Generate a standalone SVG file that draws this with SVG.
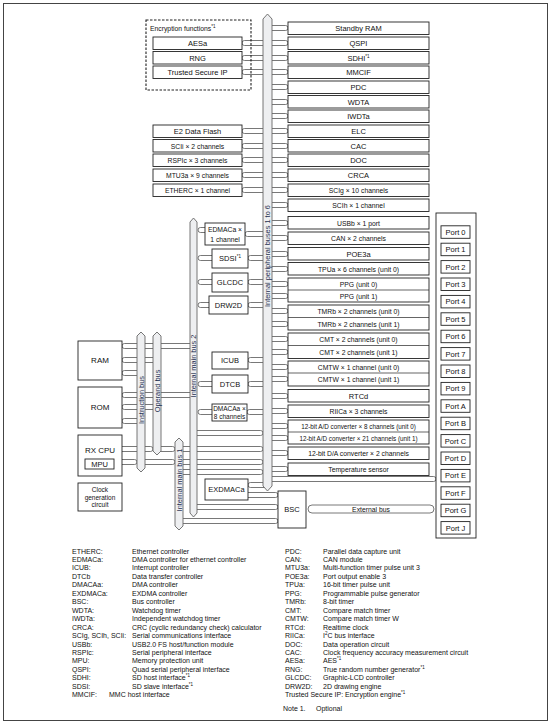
<svg xmlns="http://www.w3.org/2000/svg" width="554" height="724" viewBox="0 0 554 724">
<style>
.b{fill:#fff;stroke:#222;stroke-width:0.9}
.t{font-family:"Liberation Sans",Arial,sans-serif;font-size:7.5px;fill:#111;text-anchor:middle}
.s{font-size:6.8px}
.bus{fill:#eeeff1;stroke:#666;stroke-width:0.9}
.c{fill:#fff;stroke:#555;stroke-width:0.8}
.vt{font-family:"Liberation Sans",Arial,sans-serif;font-size:7.4px;fill:#1f2f4f;text-anchor:middle}
.lg{font-family:"Liberation Sans",Arial,sans-serif;font-size:7px;fill:#111}
.sup{font-size:4.5px}
</style>
<rect x="3.5" y="3.5" width="544" height="717" fill="#fff" stroke="#444" stroke-width="1"/>

<g id="connectors">
<path class="c" d="M270 25.5H285.5A2.5 2.5 0 0 1 285.5 30.5H270"/>
<path class="c" d="M270 40.5H285.5A2.5 2.5 0 0 1 285.5 45.5H270"/>
<path class="c" d="M270 55.5H285.5A2.5 2.5 0 0 1 285.5 60.5H270"/>
<path class="c" d="M270 69.5H285.5A2.5 2.5 0 0 1 285.5 74.5H270"/>
<path class="c" d="M270 84.5H285.5A2.5 2.5 0 0 1 285.5 89.5H270"/>
<path class="c" d="M270 99.5H285.5A2.5 2.5 0 0 1 285.5 104.5H270"/>
<path class="c" d="M270 113.5H285.5A2.5 2.5 0 0 1 285.5 118.5H270"/>
<path class="c" d="M270 128.5H285.5A2.5 2.5 0 0 1 285.5 133.5H270"/>
<path class="c" d="M270 143.5H285.5A2.5 2.5 0 0 1 285.5 148.5H270"/>
<path class="c" d="M270 157.5H285.5A2.5 2.5 0 0 1 285.5 162.5H270"/>
<path class="c" d="M270 172.5H285.5A2.5 2.5 0 0 1 285.5 177.5H270"/>
<path class="c" d="M270 187.5H285.5A2.5 2.5 0 0 1 285.5 192.5H270"/>
<path class="c" d="M270 202.5H285.5A2.5 2.5 0 0 1 285.5 207.5H270"/>
<path class="c" d="M270 220.5H285.5A2.5 2.5 0 0 1 285.5 225.5H270"/>
<path class="c" d="M270 235.5H285.5A2.5 2.5 0 0 1 285.5 240.5H270"/>
<path class="c" d="M270 251.5H285.5A2.5 2.5 0 0 1 285.5 256.5H270"/>
<path class="c" d="M270 266.5H285.5A2.5 2.5 0 0 1 285.5 271.5H270"/>
<path class="c" d="M270 281.5H285.5A2.5 2.5 0 0 1 285.5 286.5H270"/>
<path class="c" d="M270 293.5H285.5A2.5 2.5 0 0 1 285.5 298.5H270"/>
<path class="c" d="M270 308.5H285.5A2.5 2.5 0 0 1 285.5 313.5H270"/>
<path class="c" d="M270 321.5H285.5A2.5 2.5 0 0 1 285.5 326.5H270"/>
<path class="c" d="M270 336.5H285.5A2.5 2.5 0 0 1 285.5 341.5H270"/>
<path class="c" d="M270 349.5H285.5A2.5 2.5 0 0 1 285.5 354.5H270"/>
<path class="c" d="M270 364.5H285.5A2.5 2.5 0 0 1 285.5 369.5H270"/>
<path class="c" d="M270 376.5H285.5A2.5 2.5 0 0 1 285.5 381.5H270"/>
<path class="c" d="M270 393.5H285.5A2.5 2.5 0 0 1 285.5 398.5H270"/>
<path class="c" d="M270 408.5H285.5A2.5 2.5 0 0 1 285.5 413.5H270"/>
<path class="c" d="M270 423.5H285.5A2.5 2.5 0 0 1 285.5 428.5H270"/>
<path class="c" d="M270 435.5H285.5A2.5 2.5 0 0 1 285.5 440.5H270"/>
<path class="c" d="M270 450.5H285.5A2.5 2.5 0 0 1 285.5 455.5H270"/>
<path class="c" d="M270 466.5H285.5A2.5 2.5 0 0 1 285.5 471.5H270"/>
<path class="c" d="M265 40.5H244.5A2.5 2.5 0 0 0 244.5 45.5H265"/>
<path class="c" d="M265 55.5H244.5A2.5 2.5 0 0 0 244.5 60.5H265"/>
<path class="c" d="M265 69.5H244.5A2.5 2.5 0 0 0 244.5 74.5H265"/>
<path class="c" d="M265 128.5H244.5A2.5 2.5 0 0 0 244.5 133.5H265"/>
<path class="c" d="M265 143.5H244.5A2.5 2.5 0 0 0 244.5 148.5H265"/>
<path class="c" d="M265 157.5H244.5A2.5 2.5 0 0 0 244.5 162.5H265"/>
<path class="c" d="M265 172.5H244.5A2.5 2.5 0 0 0 244.5 177.5H265"/>
<path class="c" d="M265 187.5H244.5A2.5 2.5 0 0 0 244.5 192.5H265"/>
<path class="c" d="M265 231.5H247.5A2.5 2.5 0 0 0 247.5 236.5H265"/>
<path class="c" d="M265 255.5H250.5A2.5 2.5 0 0 0 250.5 260.5H265"/>
<path class="c" d="M265 279.5H250.5A2.5 2.5 0 0 0 250.5 284.5H265"/>
<path class="c" d="M265 302.5H250.5A2.5 2.5 0 0 0 250.5 307.5H265"/>
<path class="c" d="M265 357.5H250.5A2.5 2.5 0 0 0 250.5 362.5H265"/>
<path class="c" d="M265 381.5H250.5A2.5 2.5 0 0 0 250.5 386.5H265"/>
<path class="c" d="M265 409.5H249.5A2.5 2.5 0 0 0 249.5 414.5H265"/>
<path class="c" d="M207 227.5H200.5A2.5 2.5 0 0 0 200.5 232.5H207"/>
<path class="c" d="M214 255.5H200.5A2.5 2.5 0 0 0 200.5 260.5H214"/>
<path class="c" d="M214 279.5H200.5A2.5 2.5 0 0 0 200.5 284.5H214"/>
<path class="c" d="M211 302.5H200.5A2.5 2.5 0 0 0 200.5 307.5H211"/>
<path class="c" d="M214 381.5H200.5A2.5 2.5 0 0 0 200.5 386.5H214"/>
<path class="c" d="M214 409.5H200.5A2.5 2.5 0 0 0 200.5 414.5H214"/>
<path class="c" d="M192 343.5H124.5A2.5 2.5 0 0 0 124.5 348.5H192"/>
<path class="c" d="M155 357.5H124.5A2.5 2.5 0 0 0 124.5 362.5H155"/>
<path class="c" d="M139 370.5H124.5A2.5 2.5 0 0 0 124.5 375.5H139"/>
<path class="c" d="M192 392.5H124.5A2.5 2.5 0 0 0 124.5 397.5H192"/>
<path class="c" d="M155 404.5H124.5A2.5 2.5 0 0 0 124.5 409.5H155"/>
<path class="c" d="M139 418.5H124.5A2.5 2.5 0 0 0 124.5 423.5H139"/>
<path class="c" d="M120 446.5H150.5A2.5 2.5 0 0 1 150.5 451.5H120"/>
<path class="c" d="M159 446.5H172.5A2.5 2.5 0 0 1 172.5 451.5H159"/>
<path class="c" d="M120 459.5H134.5A2.5 2.5 0 0 1 134.5 464.5H120"/>
<path class="c" d="M143 459.5H172.5A2.5 2.5 0 0 1 172.5 464.5H143"/>
<path class="c" d="M195 430.5H260.5A2.5 2.5 0 0 1 260.5 435.5H195"/>
<path class="c" d="M181 446.5H260.5A2.5 2.5 0 0 1 260.5 451.5H181"/>
<path class="c" d="M181 459.5H260.5A2.5 2.5 0 0 1 260.5 464.5H181"/>
<path class="c" d="M181 469.5H260.5A2.5 2.5 0 0 1 260.5 474.5H181"/>
<path class="c" d="M270 476.5H433.5A2.5 2.5 0 0 1 433.5 481.5H270"/>
<path class="c" d="M266 482.5H250.5A2.5 2.5 0 0 0 250.5 487.5H266"/>
<path class="c" d="M246 492.5H275.5A2.5 2.5 0 0 1 275.5 497.5H246"/>
<path class="c" d="M195 504.5H275.5A2.5 2.5 0 0 1 275.5 509.5H195"/>
<path class="c" d="M181 518.5H275.5A2.5 2.5 0 0 1 275.5 523.5H181"/>
<rect class="c" x="308" y="505" width="126" height="8" rx="4"/>
<text class="t s" x="371" y="511.5">External bus</text>
</g>

<g id="buses">
<g id="peripheral-bus">
<path class="bus" d="M263 19L267.5 14L272 19V486L267.5 491L263 486Z"/>
<text class="vt" transform="translate(270.2,256) rotate(-90)">Internal peripheral buses 1 to 6</text>
</g>
<g id="main-bus-2">
<path class="bus" d="M190 222L193.5 218L197 222V513L193.5 517L190 513Z"/>
<text class="vt" transform="translate(196.2,366) rotate(-90)">Internal main bus 2</text>
</g>
<g id="instruction-bus">
<path class="bus" d="M137 336L141 332L145 336V468L141 472L137 468Z"/>
<text class="vt" transform="translate(143.7,400) rotate(-90)">Instruction bus</text>
</g>
<g id="operand-bus">
<path class="bus" d="M153 336L157 332L161 336V451L157 455L153 451Z"/>
<text class="vt" transform="translate(159.7,391) rotate(-90)">Operand bus</text>
</g>
<g id="main-bus-1">
<path class="bus" d="M175 442L179 438L183 442V526L179 530L175 526Z"/>
<text class="vt" transform="translate(181.7,480) rotate(-90)">Internal main bus 1</text>
</g>
</g>

<g id="encryption">
<rect x="146" y="20" width="105" height="70" fill="none" stroke="#222" stroke-width="1.1" stroke-dasharray="2.5,1.5"/>
<text class="t s" x="150" y="31" style="text-anchor:start">Encryption functions<tspan class="sup" dy="-3">*1</tspan></text>
</g>
<g id="aesa"><rect class="b" x="153" y="37" width="89" height="12.5"/><text class="t" x="197.5" y="45.8">AESa</text></g>
<g id="rng"><rect class="b" x="153" y="51.5" width="89" height="12.5"/><text class="t" x="197.5" y="60.5">RNG</text></g>
<g id="trusted"><rect class="b" x="153" y="66" width="89" height="12.5"/><text class="t" x="197.5" y="74.8">Trusted Secure IP</text></g>
<g id="e2"><rect class="b" x="153" y="125" width="89" height="12.5"/><text class="t" x="197.5" y="133.8">E2 Data Flash</text></g>
<g id="scii"><rect class="b" x="153" y="139.5" width="89" height="12.5"/><text class="t s" x="197.5" y="148.5">SCIi × 2 channels</text></g>
<g id="rspic"><rect class="b" x="153" y="154" width="89" height="12.5"/><text class="t s" x="197.5" y="163">RSPIc × 3 channels</text></g>
<g id="mtu3a"><rect class="b" x="153" y="169" width="89" height="12.5"/><text class="t s" x="197.5" y="178">MTU3a × 9 channels</text></g>
<g id="etherc"><rect class="b" x="153" y="184" width="89" height="12.5"/><text class="t s" x="197.5" y="193">ETHERC × 1 channel</text></g>

<g id="standby-ram"><rect class="b" x="288" y="22" width="141" height="12.5"/><text class="t" x="358.5" y="30.8">Standby RAM</text></g>
<g id="qspi"><rect class="b" x="288" y="37" width="141" height="12.5"/><text class="t" x="358.5" y="45.8">QSPI</text></g>
<g id="sdhi"><rect class="b" x="288" y="51.5" width="141" height="12.5"/><text class="t" x="358.5" y="60.5">SDHI<tspan class="sup" dy="-3">*1</tspan></text></g>
<g id="mmcif"><rect class="b" x="288" y="66" width="141" height="12.5"/><text class="t" x="358.5" y="74.8">MMCIF</text></g>
<g id="pdc"><rect class="b" x="288" y="81" width="141" height="12.5"/><text class="t" x="358.5" y="89.8">PDC</text></g>
<g id="wdta"><rect class="b" x="288" y="95.5" width="141" height="12.5"/><text class="t" x="358.5" y="104.5">WDTA</text></g>
<g id="iwdta"><rect class="b" x="288" y="110" width="141" height="12.5"/><text class="t" x="358.5" y="118.8">IWDTa</text></g>
<g id="elc"><rect class="b" x="288" y="125" width="141" height="12.5"/><text class="t" x="358.5" y="133.8">ELC</text></g>
<g id="cac"><rect class="b" x="288" y="139.5" width="141" height="12.5"/><text class="t" x="358.5" y="148.5">CAC</text></g>
<g id="doc"><rect class="b" x="288" y="154" width="141" height="12.5"/><text class="t" x="358.5" y="163">DOC</text></g>
<g id="crca"><rect class="b" x="288" y="169" width="141" height="12.5"/><text class="t" x="358.5" y="178">CRCA</text></g>
<g id="scig"><rect class="b" x="288" y="184" width="141" height="12.5"/><text class="t s" x="358.5" y="193">SCIg × 10 channels</text></g>
<g id="scih"><rect class="b" x="288" y="199" width="141" height="12.5"/><text class="t s" x="358.5" y="208">SCIh × 1 channel</text></g>
<g id="usbb"><rect class="b" x="288" y="216.5" width="141" height="12.5"/><text class="t s" x="358.5" y="225.5">USBb × 1 port</text></g>
<g id="can"><rect class="b" x="288" y="232" width="141" height="12.5"/><text class="t s" x="358.5" y="241">CAN × 2 channels</text></g>
<g id="poe3a"><rect class="b" x="288" y="247.5" width="141" height="12.5"/><text class="t" x="358.5" y="256.5">POE3a</text></g>
<g id="tpua"><rect class="b" x="288" y="262.5" width="141" height="12.5"/><text class="t s" x="358.5" y="271.5">TPUa × 6 channels (unit 0)</text></g>
<g id="ppg"><rect class="b" x="288" y="278" width="141" height="24"/><line x1="288" y1="290" x2="429" y2="290" stroke="#222" stroke-width="0.7"/><text class="t s" x="358.5" y="286.5">PPG (unit 0)</text><text class="t s" x="358.5" y="298.5">PPG (unit 1)</text></g>
<g id="tmrb"><rect class="b" x="288" y="305" width="141" height="25"/><line x1="288" y1="317.5" x2="429" y2="317.5" stroke="#222" stroke-width="0.7"/><text class="t s" x="358.5" y="313.5">TMRb × 2 channels (unit 0)</text><text class="t s" x="358.5" y="326.5">TMRb × 2 channels (unit 1)</text></g>
<g id="cmt"><rect class="b" x="288" y="333" width="141" height="25.5"/><line x1="288" y1="345.5" x2="429" y2="345.5" stroke="#222" stroke-width="0.7"/><text class="t s" x="358.5" y="341.5">CMT × 2 channels (unit 0)</text><text class="t s" x="358.5" y="354.5">CMT × 2 channels (unit 1)</text></g>
<g id="cmtw"><rect class="b" x="288" y="361" width="141" height="25"/><line x1="288" y1="373" x2="429" y2="373" stroke="#222" stroke-width="0.7"/><text class="t s" x="358.5" y="369.5">CMTW × 1 channel (unit 0)</text><text class="t s" x="358.5" y="381.5">CMTW × 1 channel (unit 1)</text></g>
<g id="rtcd"><rect class="b" x="288" y="389.5" width="141" height="12.5"/><text class="t" x="358.5" y="398.5">RTCd</text></g>
<g id="riica"><rect class="b" x="288" y="405" width="141" height="12.5"/><text class="t s" x="358.5" y="414">RIICa × 3 channels</text></g>
<g id="adc"><rect class="b" x="288" y="420" width="141" height="24"/><line x1="288" y1="432" x2="429" y2="432" stroke="#222" stroke-width="0.7"/><text class="t" x="358.5" y="428.5" style="font-size:6.3px">12-bit A/D converter × 8 channels (unit 0)</text><text class="t" x="358.5" y="440.5" style="font-size:6.3px">12-bit A/D converter × 21 channels (unit 1)</text></g>
<g id="dac"><rect class="b" x="288" y="447" width="141" height="12.5"/><text class="t s" x="358.5" y="456">12-bit D/A converter × 2 channels</text></g>
<g id="temp"><rect class="b" x="288" y="463" width="141" height="12.5"/><text class="t s" x="358.5" y="472">Temperature sensor</text></g>

<g id="edmaca"><rect class="b" x="205" y="223" width="40" height="22"/><text class="t s" x="225" y="232">EDMACa ×</text><text class="t s" x="225" y="241.5">1 channel</text></g>
<g id="sdsi"><rect class="b" x="212" y="249" width="36" height="19"/><text class="t" x="230" y="261">SDSI<tspan class="sup" dy="-3">*1</tspan></text></g>
<g id="glcdc"><rect class="b" x="212" y="273" width="36" height="19"/><text class="t" x="230" y="285">GLCDC</text></g>
<g id="drw2d"><rect class="b" x="209" y="296" width="39" height="18"/><text class="t" x="228.5" y="307.8">DRW2D</text></g>
<g id="icub"><rect class="b" x="212" y="352" width="36" height="17"/><text class="t" x="230" y="363">ICUB</text></g>
<g id="dtcb"><rect class="b" x="212" y="375" width="36" height="18"/><text class="t" x="230" y="386.8">DTCB</text></g>
<g id="dmacaa"><rect class="b" x="212" y="404" width="35" height="17"/><text class="t" x="229.5" y="411" style="font-size:6.5px">DMACAa ×</text><text class="t" x="229.5" y="418.5" style="font-size:6.5px">8 channels</text></g>
<g id="exdmaca"><rect class="b" x="205" y="479" width="43" height="21"/><text class="t" x="226.5" y="492">EXDMACa</text></g>
<g id="bsc"><rect class="b" x="278" y="491" width="28" height="37"/><text class="t" x="292" y="512">BSC</text></g>

<g id="ram"><rect class="b" x="78" y="341" width="44" height="39"/><text class="t" x="100" y="363" style="font-size:8px">RAM</text></g>
<g id="rom"><rect class="b" x="78" y="387" width="44" height="41"/><text class="t" x="100" y="410" style="font-size:8px">ROM</text></g>
<g id="rx-cpu"><rect class="b" x="78" y="435" width="44" height="41"/><text class="t" x="100" y="453" style="font-size:8px">RX CPU</text><rect class="b" x="85" y="459" width="29" height="10"/><text class="t" x="99.5" y="466.8">MPU</text></g>
<g id="clock"><rect class="b" x="78" y="483" width="44" height="28"/><text class="t" x="100" y="492" style="font-size:6.5px">Clock</text><text class="t" x="100" y="499.5" style="font-size:6.5px">generation</text><text class="t" x="100" y="507" style="font-size:6.5px">circuit</text></g>

<g id="ports">
<rect class="b" x="436" y="213" width="40" height="325"/>
<rect class="b" x="441" y="225.8" width="29" height="12.5"/><text class="t" x="455.5" y="234.8">Port 0</text>
<rect class="b" x="441" y="243.2" width="29" height="12.5"/><text class="t" x="455.5" y="252.2">Port 1</text>
<rect class="b" x="441" y="260.6" width="29" height="12.5"/><text class="t" x="455.5" y="269.6">Port 2</text>
<rect class="b" x="441" y="278" width="29" height="12.5"/><text class="t" x="455.5" y="287">Port 3</text>
<rect class="b" x="441" y="295.4" width="29" height="12.5"/><text class="t" x="455.5" y="304.4">Port 4</text>
<rect class="b" x="441" y="312.8" width="29" height="12.5"/><text class="t" x="455.5" y="321.8">Port 5</text>
<rect class="b" x="441" y="330.2" width="29" height="12.5"/><text class="t" x="455.5" y="339.2">Port 6</text>
<rect class="b" x="441" y="347.6" width="29" height="12.5"/><text class="t" x="455.5" y="356.6">Port 7</text>
<rect class="b" x="441" y="365" width="29" height="12.5"/><text class="t" x="455.5" y="374">Port 8</text>
<rect class="b" x="441" y="382.4" width="29" height="12.5"/><text class="t" x="455.5" y="391.4">Port 9</text>
<rect class="b" x="441" y="399.8" width="29" height="12.5"/><text class="t" x="455.5" y="408.8">Port A</text>
<rect class="b" x="441" y="417.2" width="29" height="12.5"/><text class="t" x="455.5" y="426.2">Port B</text>
<rect class="b" x="441" y="434.6" width="29" height="12.5"/><text class="t" x="455.5" y="443.6">Port C</text>
<rect class="b" x="441" y="452" width="29" height="12.5"/><text class="t" x="455.5" y="461">Port D</text>
<rect class="b" x="441" y="469.4" width="29" height="12.5"/><text class="t" x="455.5" y="478.4">Port E</text>
<rect class="b" x="441" y="486.8" width="29" height="12.5"/><text class="t" x="455.5" y="495.8">Port F</text>
<rect class="b" x="441" y="504.2" width="29" height="12.5"/><text class="t" x="455.5" y="513.2">Port G</text>
<rect class="b" x="441" y="521.6" width="29" height="12.5"/><text class="t" x="455.5" y="530.6">Port J</text>
</g>

<g id="legend-left" class="lg">
<text x="72" y="553.5">ETHERC:</text><text x="132" y="553.5">Ethernet controller</text>
<text x="72" y="562">EDMACa:</text><text x="132" y="562">DMA controller for ethernet controller</text>
<text x="72" y="570.4">ICUB:</text><text x="132" y="570.4">Interrupt controller</text>
<text x="72" y="578.9">DTCb</text><text x="132" y="578.9">Data transfer controller</text>
<text x="72" y="587.3">DMACAa:</text><text x="132" y="587.3">DMA controller</text>
<text x="72" y="595.8">EXDMACa:</text><text x="132" y="595.8">EXDMA controller</text>
<text x="72" y="604.2">BSC:</text><text x="132" y="604.2">Bus controller</text>
<text x="72" y="612.7">WDTA:</text><text x="132" y="612.7">Watchdog timer</text>
<text x="72" y="621.1">IWDTa:</text><text x="132" y="621.1">Independent watchdog timer</text>
<text x="72" y="629.6">CRCA:</text><text x="132" y="629.6">CRC (cyclic redundancy check) calculator</text>
<text x="72" y="638">SCIg, SCIh, SCIi:</text><text x="132" y="638">Serial communications interface</text>
<text x="72" y="646.5">USBb:</text><text x="132" y="646.5">USB2.0 FS host/function module</text>
<text x="72" y="654.9">RSPIc:</text><text x="132" y="654.9">Serial peripheral interface</text>
<text x="72" y="663.4">MPU:</text><text x="132" y="663.4">Memory protection unit</text>
<text x="72" y="671.8">QSPI:</text><text x="132" y="671.8">Quad serial peripheral interface</text>
<text x="72" y="680.3">SDHI:</text><text x="132" y="680.3">SD host interface<tspan class="sup" dy="-3">*1</tspan></text>
<text x="72" y="688.7">SDSI:</text><text x="132" y="688.7">SD slave interface<tspan class="sup" dy="-3">*1</tspan></text>
<text x="72" y="697.2">MMCIF:</text><text x="109" y="697.2">MMC host interface</text>
</g>

<g id="legend-right" class="lg">
<text x="285" y="553.5">PDC:</text><text x="323" y="553.5">Parallel data capture unit</text>
<text x="285" y="562">CAN:</text><text x="323" y="562">CAN module</text>
<text x="285" y="570.4">MTU3a:</text><text x="323" y="570.4">Multi-function timer pulse unit 3</text>
<text x="285" y="578.9">POE3a:</text><text x="323" y="578.9">Port output enable 3</text>
<text x="285" y="587.3">TPUa:</text><text x="323" y="587.3">16-bit timer pulse unit</text>
<text x="285" y="595.8">PPG:</text><text x="323" y="595.8">Programmable pulse generator</text>
<text x="285" y="604.2">TMRb:</text><text x="323" y="604.2">8-bit timer</text>
<text x="285" y="612.7">CMT:</text><text x="323" y="612.7">Compare match timer</text>
<text x="285" y="621.1">CMTW:</text><text x="323" y="621.1">Compare match timer W</text>
<text x="285" y="629.6">RTCd:</text><text x="323" y="629.6">Realtime clock</text>
<text x="285" y="638">RIICa:</text><text x="323" y="638">I<tspan class="sup" dy="-3">2</tspan><tspan dy="3">C bus interface</tspan></text>
<text x="285" y="646.5">DOC:</text><text x="323" y="646.5">Data operation circuit</text>
<text x="285" y="654.9">CAC:</text><text x="323" y="654.9">Clock frequency accuracy measurement circuit</text>
<text x="285" y="663.4">AESa:</text><text x="323" y="663.4">AES<tspan class="sup" dy="-3">*1</tspan></text>
<text x="285" y="671.8">RNG:</text><text x="323" y="671.8">True random number generator<tspan class="sup" dy="-3">*1</tspan></text>
<text x="285" y="680.3">GLCDC:</text><text x="323" y="680.3">Graphic-LCD controller</text>
<text x="285" y="688.7">DRW2D:</text><text x="323" y="688.7">2D drawing engine</text>
<text x="285" y="697.2">Trusted Secure IP: Encryption engine<tspan class="sup" dy="-3">*1</tspan></text>
<text x="283" y="710.5">Note 1.</text><text x="316" y="710.5">Optional</text>
</g>
</svg>
